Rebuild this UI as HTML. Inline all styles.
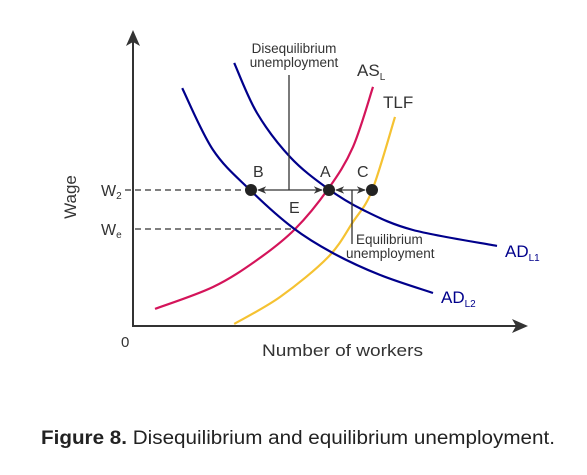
<!DOCTYPE html>
<html><head><meta charset="utf-8"><style>
html,body{margin:0;padding:0;background:#fff;}
svg{display:block;font-family:"Liberation Sans","DejaVu Sans",sans-serif;}
</style></head><body>
<svg id="chart" width="587" height="475" viewBox="0 0 587 475">
<defs>
<marker id="ah" viewBox="0 0 10 10" refX="9" refY="5" markerWidth="7" markerHeight="7" orient="auto-start-reverse"><path d="M0,1 L10,5 L0,9 L3,5 Z" fill="#333"/></marker>
</defs>
<g id="axes">
<line x1="133" y1="327" x2="133" y2="40" stroke="#333" stroke-width="2"/>
<path d="M133,30 L126,46 L133,42 L140,46 Z" fill="#333"/>
<line x1="132" y1="326" x2="520" y2="326" stroke="#333" stroke-width="2"/>
<path d="M528,326 L512,319 L516,326 L512,333 Z" fill="#333"/>
<text x="121" y="347" font-size="15" fill="#333">0</text>
<text x="262" y="356" font-size="17" textLength="161" lengthAdjust="spacingAndGlyphs" fill="#333">Number of workers</text>
<text transform="translate(76,197) rotate(-90)" text-anchor="middle" font-size="17" fill="#333">Wage</text>
<text x="101" y="196" font-size="16" fill="#333">W<tspan font-size="10" dy="3">2</tspan></text>
<text x="101" y="235" font-size="16" fill="#333">W<tspan font-size="10" dy="3">e</tspan></text>
<line x1="125" y1="190" x2="251" y2="190" stroke="#333" stroke-width="1.3" stroke-dasharray="6,4"/>
<line x1="135" y1="229" x2="296" y2="229" stroke="#333" stroke-width="1.3" stroke-dasharray="6,4"/>
</g>
<g id="curves"></g>
<g id="annot">
<line x1="289" y1="75" x2="289" y2="190" stroke="#333" stroke-width="1.3"/>
<text text-anchor="middle" font-size="13.5" fill="#333"><tspan x="294" y="53">Disequilibrium</tspan><tspan x="294" y="67">unemployment</tspan></text>
<line x1="352" y1="190" x2="352" y2="244" stroke="#333" stroke-width="1.3"/>
<text font-size="13.5" fill="#333"><tspan x="356" y="244">Equilibrium</tspan><tspan x="346" y="258">unemployment</tspan></text>
<line x1="258" y1="190" x2="322" y2="190" stroke="#333" stroke-width="1.3" marker-start="url(#ah)" marker-end="url(#ah)"/>
<line x1="336" y1="190" x2="365" y2="190" stroke="#333" stroke-width="1.3" marker-start="url(#ah)" marker-end="url(#ah)"/>
<circle cx="251" cy="190" r="6" fill="#222"/>
<circle cx="329" cy="190" r="6" fill="#222"/>
<circle cx="372" cy="190" r="6" fill="#222"/>
<text x="253" y="177" font-size="16" fill="#333">B</text>
<text x="320" y="177" font-size="16" fill="#333">A</text>
<text x="357" y="177" font-size="16" fill="#333">C</text>
<text x="289" y="213" font-size="16" fill="#333">E</text>
<text x="357" y="76" font-size="17" fill="#333">AS<tspan font-size="10" dy="4">L</tspan></text>
<text x="383" y="108" font-size="17" fill="#333">TLF</text>
<text x="505" y="257" font-size="17" fill="#00008b">AD<tspan font-size="10" dy="4">L1</tspan></text>
<text x="441" y="303" font-size="17" fill="#00008b">AD<tspan font-size="10" dy="4">L2</tspan></text>
</g>
<text x="41" y="444" font-size="19" fill="#222" textLength="514" lengthAdjust="spacingAndGlyphs"><tspan font-weight="bold">Figure 8.</tspan> Disequilibrium and equilibrium unemployment.</text>
</svg>
<script>
// Curve shapes in chart units (x: workers, y: wage)
const adl1X = [25.3, 31, 39.3, 48.5, 57.5, 70, 91];
const adl1Y = [87.7, 71, 56.3, 46, 38.7, 32, 26.7];
const adl2X = [12.3, 20, 29.3, 40, 50, 61.8, 75];
const adl2Y = [79.3, 58.7, 45.3, 32.7, 24.3, 17, 11];
const aslX = [5.5, 20, 31, 40.5, 48.8, 55, 60];
const aslY = [5.7, 13, 22, 32.3, 45.7, 59.7, 79.7];
const tlfX = [25.3, 36.8, 48.8, 55, 59.8, 65.5];
const tlfY = [0.7, 9.7, 23, 34.7, 45.3, 69.7];
function sx(v){ return 133 + v*4; }
function sy(v){ return 326 - v*3; }
function pathFrom(xs, ys){
  const p = xs.map((x,i)=>[sx(x), sy(ys[i])]);
  let d = 'M'+p[0][0]+','+p[0][1];
  for(let i=0;i<p.length-1;i++){
    const p0=p[i-1]||p[i], p1=p[i], p2=p[i+1], p3=p[i+2]||p2;
    const c1=[p1[0]+(p2[0]-p0[0])/6, p1[1]+(p2[1]-p0[1])/6];
    const c2=[p2[0]-(p3[0]-p1[0])/6, p2[1]-(p3[1]-p1[1])/6];
    d+=' C'+c1[0]+','+c1[1]+' '+c2[0]+','+c2[1]+' '+p2[0]+','+p2[1];
  }
  return d;
}
const g = document.getElementById('curves');
function addCurve(xs, ys, color, name){
  const el = document.createElementNS('http://www.w3.org/2000/svg','path');
  el.setAttribute('d', pathFrom(xs, ys));
  el.setAttribute('fill','none');
  el.setAttribute('stroke', color);
  el.setAttribute('stroke-width','2.2');
  
  
  g.appendChild(el);
}
addCurve(tlfX, tlfY, '#f5c232', 'tlf-curve');
addCurve(aslX, aslY, '#d4145a', 'asl-curve');
addCurve(adl2X, adl2Y, '#00008b', 'adl2-curve');
addCurve(adl1X, adl1Y, '#00008b', 'adl1-curve');
</script>
</body></html>
